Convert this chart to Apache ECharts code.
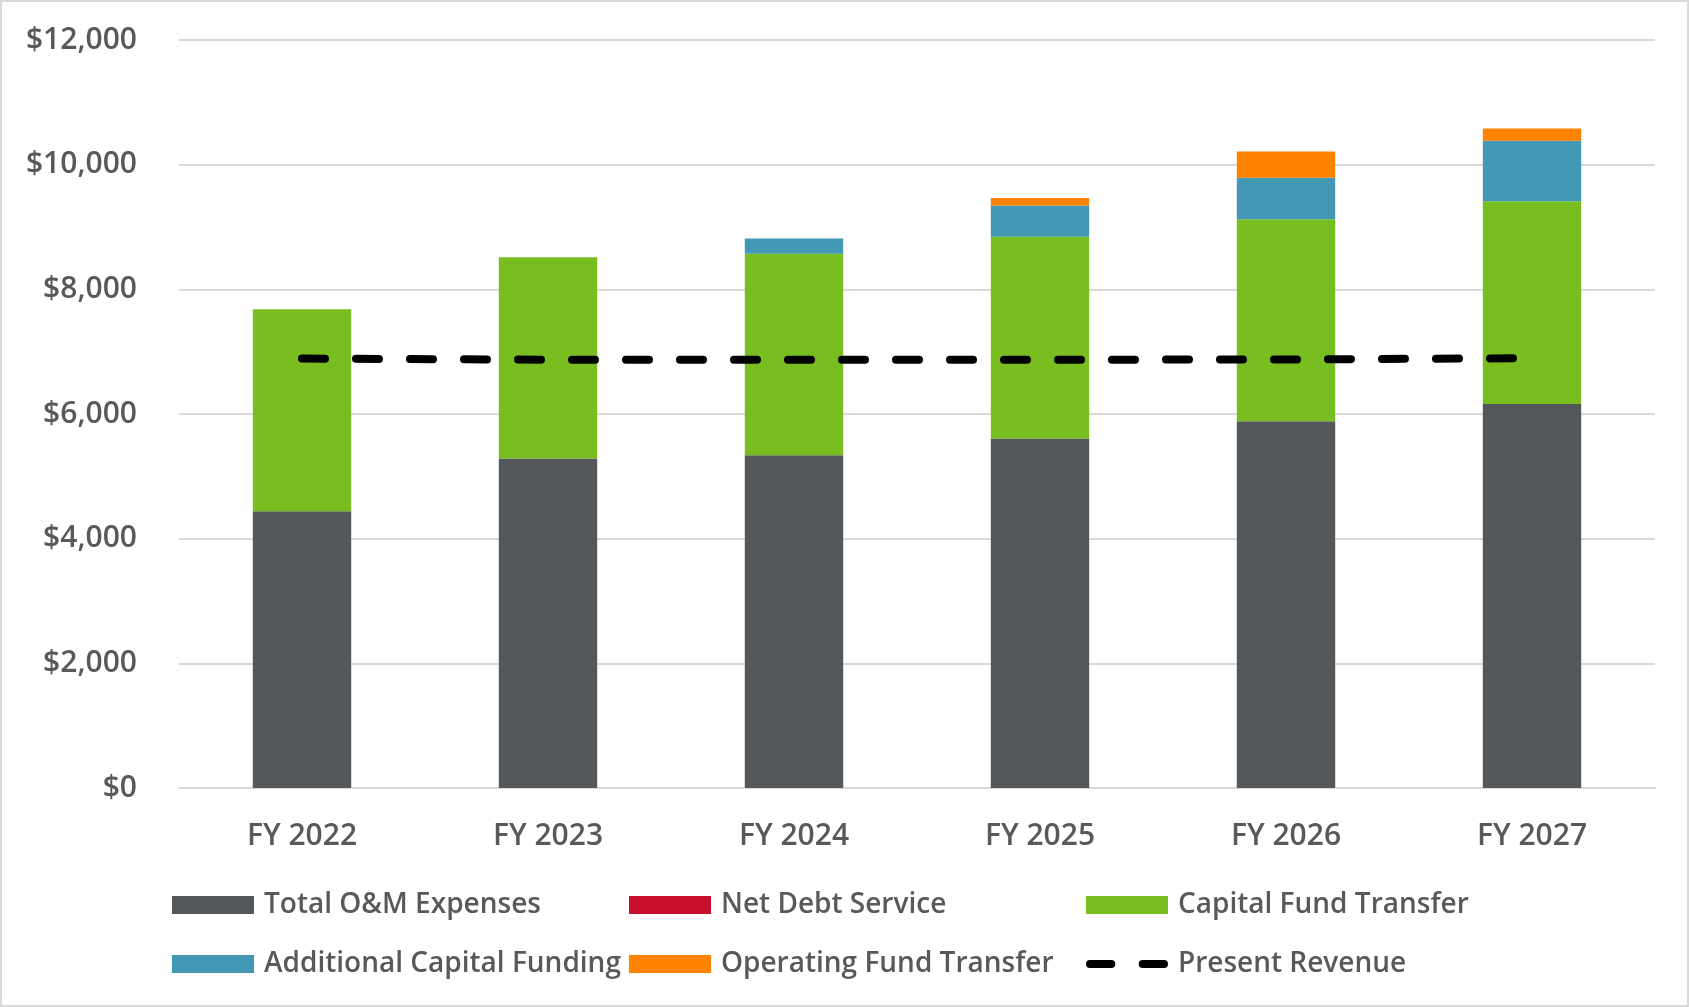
<!DOCTYPE html>
<html>
<head>
    <meta charset="utf-8">
    <title>Revenue Requirements vs Present Revenue</title>
    <script src="https://cdn.jsdelivr.net/npm/echarts@6/dist/echarts.min.js"></script>
    <style>
        html, body { margin: 0; padding: 0; background: #fff; }
        #main { width: 1689px; height: 1007px; box-sizing: border-box; border: 2px solid #d9d9d9; }
    </style>
</head>
<body>
<div id="main"></div>
<script>
// data (thousands of $)
const years = ['FY 2022', 'FY 2023', 'FY 2024', 'FY 2025', 'FY 2026', 'FY 2027'];
const omExpenses = [4440, 5285, 5340, 5605, 5885, 6160];
const netDebtService = [0, 0, 0, 0, 0, 0];
const capitalFundTransfer = [3240, 3230, 3230, 3240, 3240, 3255];
const additionalCapital = [0, 0, 245, 500, 665, 970];
const operatingFundTransfer = [0, 0, 0, 120, 420, 195];
const presentRevenue = [6890, 6870, 6870, 6870, 6875, 6895];

const textColor = '#595959';
const font = '"Open Sans", "Liberation Sans", sans-serif';

const colors = {
    om: '#54585a',
    debt: '#c8102e',
    cap: '#78be20',
    addl: '#4298b5',
    oper: '#ff8200'
};

function barSeries(name, data, color) {
    return {
        name: name,
        type: 'bar',
        stack: 'total',
        data: data,
        barWidth: '40%',
        itemStyle: { color: color },
        emphasis: { disabled: true }
    };
}

// two rounded dashes for the legend icon of the revenue line
const dashIcon = 'path://M4,0h22a4,4 0 0 1 0,8h-22a4,4 0 0 1 0,-8z M58,0h22a4,4 0 0 1 0,8h-22a4,4 0 0 1 0,-8z';

const legendBase = {
    orient: 'vertical',
    top: 884,
    itemWidth: 82,
    itemHeight: 18,
    itemGap: 31,
    icon: 'rect',
    selectedMode: false,
    textStyle: { color: textColor, fontSize: 28, fontWeight: 600, fontFamily: font, padding: [0, 0, 0, 5] }
};

const option = {
    animation: false,
    grid: { left: 177, right: 32, top: 38, bottom: 217 },
    legend: [
        Object.assign({}, legendBase, { left: 165, data: ['Total O&M Expenses', 'Additional Capital Funding'] }),
        Object.assign({}, legendBase, { left: 622, data: ['Net Debt Service', 'Operating Fund Transfer'] }),
        Object.assign({}, legendBase, { left: 1079, data: ['Capital Fund Transfer', { name: 'Present Revenue', icon: dashIcon }] })
    ],
    xAxis: {
        type: 'category',
        data: years,
        axisTick: { show: false },
        axisLine: { lineStyle: { color: '#d9d9d9', width: 2 } },
        axisLabel: { color: textColor, fontSize: 30, fontWeight: 600, fontFamily: font, margin: 33 }
    },
    yAxis: {
        type: 'value',
        min: 0,
        max: 12000,
        interval: 2000,
        axisLine: { show: false },
        axisTick: { show: false },
        splitLine: { lineStyle: { color: '#d9d9d9', width: 2 } },
        axisLabel: {
            color: textColor, fontSize: 30, fontWeight: 600, fontFamily: font, margin: 42,
            formatter: v => '$' + v.toLocaleString('en-US')
        }
    },
    series: [
        barSeries('Total O&M Expenses', omExpenses, colors.om),
        barSeries('Net Debt Service', netDebtService, colors.debt),
        barSeries('Capital Fund Transfer', capitalFundTransfer, colors.cap),
        barSeries('Additional Capital Funding', additionalCapital, colors.addl),
        barSeries('Operating Fund Transfer', operatingFundTransfer, colors.oper),
        {
            name: 'Present Revenue',
            type: 'line',
            data: presentRevenue,
            symbol: 'none',
            z: 5,
            itemStyle: { color: '#000' },
            lineStyle: { color: '#000', width: 8, type: [23, 31], cap: 'round' },
            emphasis: { disabled: true }
        }
    ]
};

const chart = echarts.init(document.getElementById('main'));
chart.setOption(option);
</script>
</body>
</html>
